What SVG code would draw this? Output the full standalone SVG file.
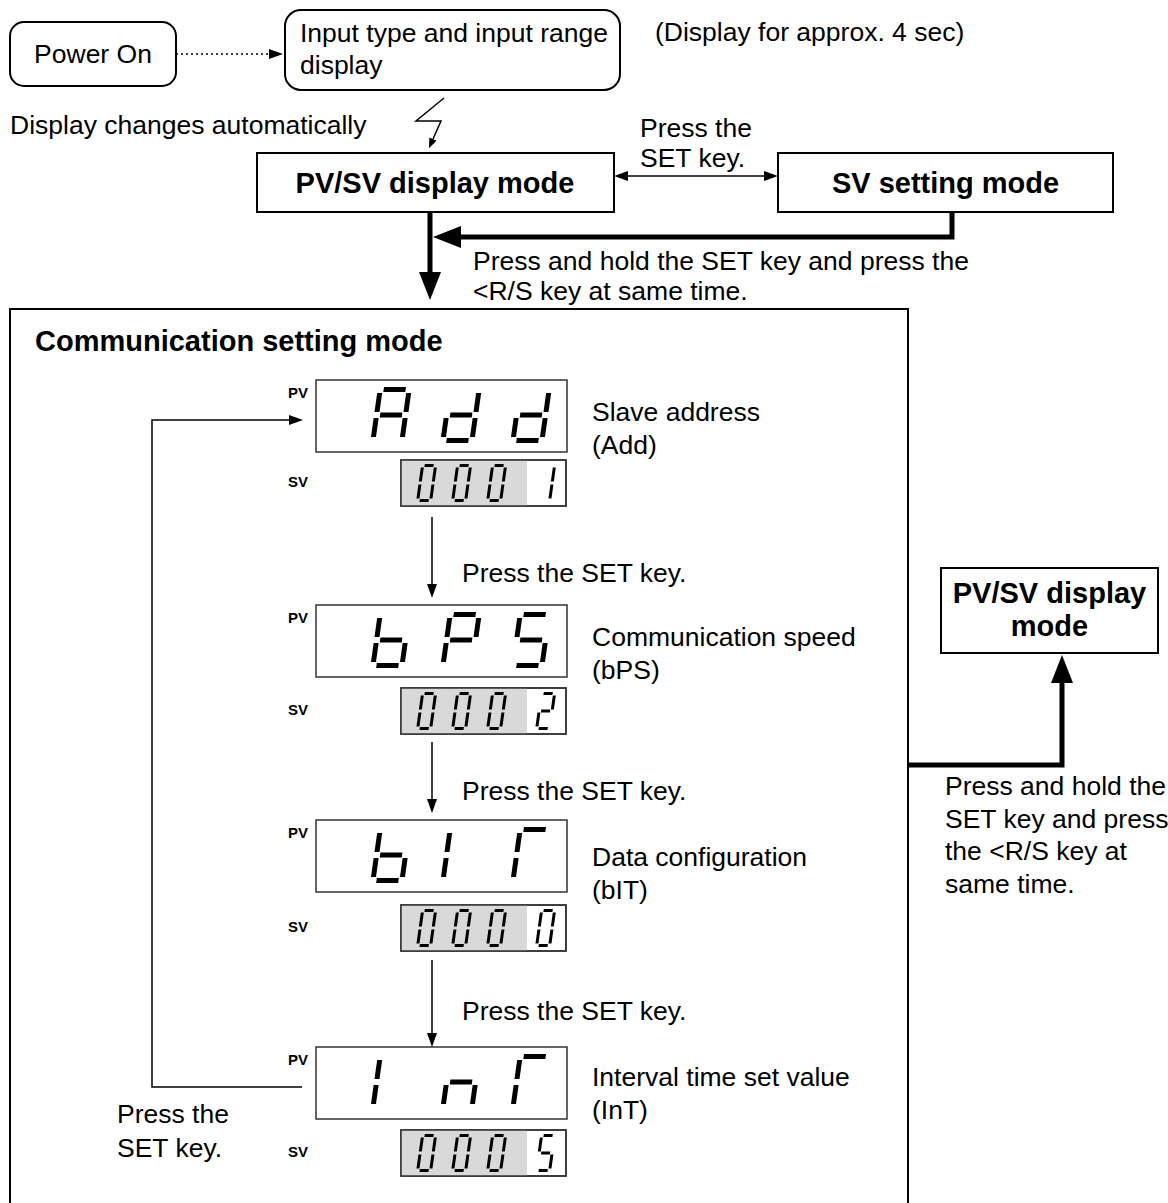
<svg xmlns="http://www.w3.org/2000/svg" width="1168" height="1203" viewBox="0 0 1168 1203">
<style>
text { font-family: "Liberation Sans", Arial, sans-serif; fill: #000; }
.t { font-size: 26.5px; }
.b { font-size: 29px; font-weight: bold; }
.lbl { font-size: 15px; font-weight: bold; }
.box { fill: #fff; stroke: #000; stroke-width: 2; }
.disp { fill: #fff; stroke: #333; stroke-width: 1.5; }
.outl { fill: none; stroke: #333; stroke-width: 1.5; }
.grey { fill: #d9d9d9; }
.thin { fill: none; stroke: #000; stroke-width: 1.5; }
.thick { fill: none; stroke: #000; stroke-width: 5; }
.segP { stroke: #000; stroke-width: 5; }
.segS { stroke: #000; stroke-width: 3; }
</style>
<defs>
<marker id="ah" viewBox="0 0 14 10" refX="0" refY="5" markerWidth="14" markerHeight="10" markerUnits="userSpaceOnUse" orient="auto-start-reverse"><path d="M0,0 L14,5 L0,10 z"/></marker>
<marker id="ahs" viewBox="0 0 10 8" refX="0" refY="4" markerWidth="10" markerHeight="8" markerUnits="userSpaceOnUse" orient="auto"><path d="M0,0 L10,4 L0,8 z"/></marker>
<marker id="aht" viewBox="0 0 28 22" refX="0" refY="11" markerWidth="28" markerHeight="22" markerUnits="userSpaceOnUse" orient="auto"><path d="M0,0 L28,11 L0,22 z"/></marker>
<line id="pa" class="segP" x1="6" y1="2.5" x2="28" y2="2.5"/>
<line id="pb" class="segP" x1="31.5" y1="6" x2="31.5" y2="25"/>
<line id="pc" class="segP" x1="31.5" y1="31" x2="31.5" y2="50"/>
<line id="pd" class="segP" x1="6" y1="53.5" x2="28" y2="53.5"/>
<line id="pe" class="segP" x1="2.5" y1="31" x2="2.5" y2="50"/>
<line id="pf" class="segP" x1="2.5" y1="6" x2="2.5" y2="25"/>
<line id="pg" class="segP" x1="6" y1="28" x2="28" y2="28"/>
<line id="sa" class="segS" x1="3.5" y1="1.5" x2="12.5" y2="1.5"/>
<line id="sb" class="segS" x1="14.5" y1="3.5" x2="14.5" y2="17.5"/>
<line id="sc" class="segS" x1="14.5" y1="20.5" x2="14.5" y2="34.5"/>
<line id="sd" class="segS" x1="3.5" y1="36.5" x2="12.5" y2="36.5"/>
<line id="se" class="segS" x1="1.5" y1="20.5" x2="1.5" y2="34.5"/>
<line id="sf" class="segS" x1="1.5" y1="3.5" x2="1.5" y2="17.5"/>
<line id="sg" class="segS" x1="3.5" y1="19" x2="12.5" y2="19"/>
<g id="d0"><use href="#sa"/><use href="#sb"/><use href="#sc"/><use href="#sd"/><use href="#se"/><use href="#sf"/></g>
<g id="d000">
<g transform="translate(421.3,0) skewX(-8)"><use href="#d0"/></g>
<g transform="translate(456.3,0) skewX(-8)"><use href="#d0"/></g>
<g transform="translate(491.3,0) skewX(-8)"><use href="#d0"/></g>
</g>
</defs>

<!-- top nodes -->
<g id="power-on">
<rect class="box" x="10" y="22" width="166" height="64" rx="14"/>
<text class="t" x="93" y="63" text-anchor="middle">Power On</text>
</g>
<g id="input-range-display">
<rect class="box" x="285" y="10" width="335" height="80" rx="16"/>
<text class="t" x="300" y="42">Input type and input range</text>
<text class="t" x="300" y="74">display</text>
</g>
<text class="t" x="655" y="41">(Display for approx. 4 sec)</text>
<text class="t" x="10" y="134">Display changes automatically</text>

<g id="pvsv-display-mode">
<rect class="box" x="257" y="153" width="357" height="59"/>
<text class="b" x="435" y="193" text-anchor="middle">PV/SV display mode</text>
</g>
<g id="sv-setting-mode">
<rect class="box" x="778" y="153" width="335" height="59"/>
<text class="b" x="945.5" y="193" text-anchor="middle">SV setting mode</text>
</g>
<text class="t" x="640" y="137">Press the</text>
<text class="t" x="640" y="167">SET key.</text>
<text class="t" x="473" y="270">Press and hold the SET key and press the</text>
<text class="t" x="473" y="300">&lt;R/S key at same time.</text>

<!-- communication setting mode container -->
<g id="communication-setting-mode">
<rect class="box" x="10" y="309" width="898" height="920"/>
<text class="b" x="35" y="351">Communication setting mode</text>
</g>

<!-- Add -->
<g id="node-add">
<text class="lbl" x="288" y="398">PV</text>
<rect class="disp" x="316" y="380" width="251" height="72"/>
<g transform="translate(378,387) skewX(-8)"><use href="#pa"/><use href="#pb"/><use href="#pc"/><use href="#pe"/><use href="#pf"/><use href="#pg"/></g>
<g transform="translate(448,387) skewX(-8)"><use href="#pb"/><use href="#pc"/><use href="#pd"/><use href="#pe"/><use href="#pg"/></g>
<g transform="translate(518,387) skewX(-8)"><use href="#pb"/><use href="#pc"/><use href="#pd"/><use href="#pe"/><use href="#pg"/></g>
<text class="lbl" x="288" y="487">SV</text>
<rect class="disp" x="401" y="460" width="165" height="46"/>
<rect class="grey" x="401" y="460" width="126" height="46"/>
<rect class="outl" x="401" y="460" width="165" height="46"/>
<use href="#d000" y="464"/>
<g transform="translate(540.3,464) skewX(-8)"><use href="#sb"/><use href="#sc"/></g>
<text class="t" x="592" y="421">Slave address</text>
<text class="t" x="592" y="454">(Add)</text>
</g>

<!-- bPS -->
<g id="node-bps">
<text class="lbl" x="288" y="623">PV</text>
<rect class="disp" x="316" y="605" width="251" height="72"/>
<g transform="translate(378,612) skewX(-8)"><use href="#pc"/><use href="#pd"/><use href="#pe"/><use href="#pf"/><use href="#pg"/></g>
<g transform="translate(448,612) skewX(-8)"><use href="#pa"/><use href="#pb"/><use href="#pe"/><use href="#pf"/><use href="#pg"/></g>
<g transform="translate(518,612) skewX(-8)"><use href="#pa"/><use href="#pc"/><use href="#pd"/><use href="#pf"/><use href="#pg"/></g>
<text class="lbl" x="288" y="715">SV</text>
<rect class="disp" x="401" y="688" width="165" height="46"/>
<rect class="grey" x="401" y="688" width="126" height="46"/>
<rect class="outl" x="401" y="688" width="165" height="46"/>
<use href="#d000" y="692"/>
<g transform="translate(540.3,692) skewX(-8)"><use href="#sa"/><use href="#sb"/><use href="#sd"/><use href="#se"/><use href="#sg"/></g>
<text class="t" x="592" y="646">Communication speed</text>
<text class="t" x="592" y="679">(bPS)</text>
</g>

<!-- bIT -->
<g id="node-bit">
<text class="lbl" x="288" y="838">PV</text>
<rect class="disp" x="316" y="820" width="251" height="72"/>
<g transform="translate(378,827) skewX(-8)"><use href="#pc"/><use href="#pd"/><use href="#pe"/><use href="#pf"/><use href="#pg"/></g>
<g transform="translate(448,827) skewX(-8)"><use href="#pe"/><use href="#pf"/></g>
<g transform="translate(518,827) skewX(-8)"><use href="#pa"/><use href="#pe"/><use href="#pf"/></g>
<text class="lbl" x="288" y="932">SV</text>
<rect class="disp" x="401" y="905" width="165" height="46"/>
<rect class="grey" x="401" y="905" width="126" height="46"/>
<rect class="outl" x="401" y="905" width="165" height="46"/>
<use href="#d000" y="909"/>
<g transform="translate(540.3,909) skewX(-8)"><use href="#d0"/></g>
<text class="t" x="592" y="866">Data configuration</text>
<text class="t" x="592" y="899">(bIT)</text>
</g>

<!-- InT -->
<g id="node-int">
<text class="lbl" x="288" y="1065">PV</text>
<rect class="disp" x="316" y="1047" width="251" height="72"/>
<g transform="translate(378,1054) skewX(-8)"><use href="#pe"/><use href="#pf"/></g>
<g transform="translate(448,1054) skewX(-8)"><use href="#pc"/><use href="#pe"/><use href="#pg"/></g>
<g transform="translate(518,1054) skewX(-8)"><use href="#pa"/><use href="#pe"/><use href="#pf"/></g>
<text class="lbl" x="288" y="1157">SV</text>
<rect class="disp" x="401" y="1130" width="165" height="46"/>
<rect class="grey" x="401" y="1130" width="126" height="46"/>
<rect class="outl" x="401" y="1130" width="165" height="46"/>
<use href="#d000" y="1134"/>
<g transform="translate(540.3,1134) skewX(-8)"><use href="#sa"/><use href="#sc"/><use href="#sd"/><use href="#sf"/><use href="#sg"/></g>
<text class="t" x="592" y="1086">Interval time set value</text>
<text class="t" x="592" y="1119">(InT)</text>
</g>

<text class="t" x="462" y="582">Press the SET key.</text>
<text class="t" x="462" y="800">Press the SET key.</text>
<text class="t" x="462" y="1020">Press the SET key.</text>
<text class="t" x="117" y="1123">Press the</text>
<text class="t" x="117" y="1157">SET key.</text>

<!-- right target -->
<g id="pvsv-display-mode-2">
<rect class="box" x="941" y="568" width="217" height="85"/>
<text class="b" x="1049.5" y="603" text-anchor="middle">PV/SV display</text>
<text class="b" x="1049.5" y="636" text-anchor="middle">mode</text>
</g>
<text class="t" x="945" y="795">Press and hold the</text>
<text class="t" x="945" y="828">SET key and press</text>
<text class="t" x="945" y="860">the &lt;R/S key at</text>
<text class="t" x="945" y="893">same time.</text>

<!-- connectors -->
<g id="connectors">
<path class="thin" d="M176,54 H269" stroke-dasharray="2 3" marker-end="url(#ah)"/>
<polyline class="thin" points="444,98 416,121 441,121 433,139" marker-end="url(#ahs)"/>
<path class="thin" d="M628,176 H764" marker-start="url(#ah)" marker-end="url(#ah)"/>
<path class="thick" d="M430,212 V272" marker-end="url(#aht)"/>
<path class="thick" d="M952,212 V237 H461" stroke-linejoin="miter" marker-end="url(#aht)"/>
<path class="thin" d="M432,517 V584" marker-end="url(#ah)"/>
<path class="thin" d="M432,742 V799" marker-end="url(#ah)"/>
<path class="thin" d="M432,960 V1033" marker-end="url(#ah)"/>
<path class="thin" d="M302,1087 H152 V420 H289" marker-end="url(#ah)"/>
<path class="thick" d="M908,765 H1062 V683" marker-end="url(#aht)"/>
</g>
</svg>
